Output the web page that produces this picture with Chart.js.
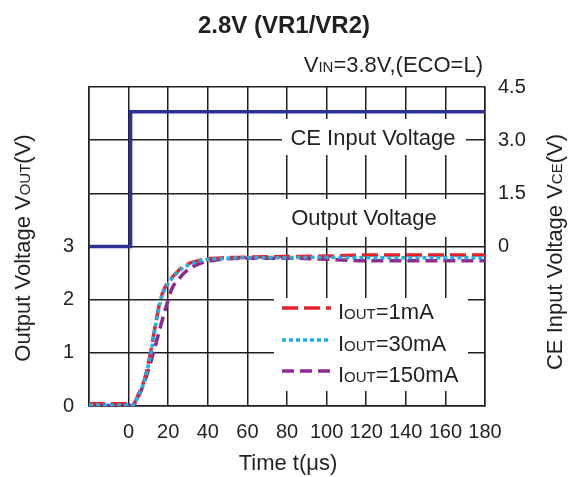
<!DOCTYPE html>
<html>
<head>
<meta charset="utf-8">
<script src="https://cdn.jsdelivr.net/npm/chart.js@4"></script>
<style>
  body { margin: 0; background: #fff; }
</style>
</head>
<body>
<canvas id="chart" width="568" height="477"></canvas>
<script>
// time axis, microseconds
const times = [-20, 0, 2, 5, 8, 11, 14, 16, 18, 20, 22, 25, 28, 32, 36, 40, 45, 50, 60, 80, 100, 120, 140, 160, 180];
// output voltage (V) per load current
const vout1mA   = [0.04, 0.04, 0.03, 0.22, 0.50, 0.99, 1.62, 1.99, 2.20, 2.33, 2.42, 2.54, 2.63, 2.70, 2.74, 2.77, 2.78, 2.79, 2.80, 2.81, 2.82, 2.84, 2.84, 2.84, 2.84];
const vout30mA  = [0.02, 0.02, 0.02, 0.20, 0.48, 0.95, 1.58, 1.95, 2.17, 2.30, 2.40, 2.52, 2.61, 2.68, 2.73, 2.76, 2.77, 2.78, 2.79, 2.79, 2.80, 2.79, 2.79, 2.79, 2.79];
const vout150mA = [0.01, 0.01, 0.01, 0.18, 0.45, 0.80, 1.20, 1.48, 1.75, 2.00, 2.22, 2.37, 2.50, 2.61, 2.68, 2.72, 2.75, 2.77, 2.78, 2.78, 2.76, 2.73, 2.73, 2.73, 2.73];
// CE input step
const ceTimes = [-20, 1, 1, 180];
const ceVolts = [0, 0, 3.8, 3.8];

const leftTicks = [0, 1, 2, 3];
const rightTicks = [0, 1.5, 3, 4.5];
const rightTickLabels = ['0', '1.5', '3.0', '4.5'];
const legendLabels = ['1mA', '30mA', '150mA'];

const FONT = "'Liberation Sans', Arial, sans-serif";
const INK = '#231f20';
const RED = '#e8202a', CYAN = '#1cb0e6', PURPLE = '#8e2a92', NAVY = '#2e3192';

const pts = (xs, ys) => xs.map((x, i) => ({x: x, y: ys[i]}));

// draw text made of [string, size] parts
function mixed(ctx, parts, x, y, align) {
  let w = 0;
  parts.forEach(p => { ctx.font = p[1] + 'px ' + FONT; w += ctx.measureText(p[0]).width; });
  let cx = align === 'center' ? x - w / 2 : align === 'right' ? x - w : x;
  ctx.textAlign = 'left';
  ctx.textBaseline = 'alphabetic';
  parts.forEach(p => {
    ctx.font = p[1] + 'px ' + FONT;
    ctx.fillText(p[0], cx, y);
    cx += ctx.measureText(p[0]).width;
  });
}

const boxes = {
  id: 'boxes',
  beforeDatasetsDraw(chart) {
    const ctx = chart.ctx;
    ctx.save();
    ctx.fillStyle = '#fff';
    ctx.fillRect(282, 119, 184, 36);
    ctx.fillRect(283, 199, 167, 38);
    ctx.fillRect(274, 298, 194, 93);
    ctx.restore();
  },
  afterDraw(chart) {
    const ctx = chart.ctx;
    ctx.save();
    ctx.fillStyle = INK;
    ctx.textAlign = 'center';
    ctx.font = 'bold 24px ' + FONT;
    ctx.fillText('2.8V (VR1/VR2)', 284, 33);
    mixed(ctx, [['V', 22], ['IN', 15], ['=3.8V,(ECO=L)', 22]], 483, 72, 'right');
    mixed(ctx, [['CE Input Voltage', 22]], 373, 145, 'center');
    mixed(ctx, [['Output Voltage', 22]], 364, 225, 'center');
    mixed(ctx, [['Time t(\u03bcs)', 22]], 288, 470, 'center');

    ctx.save();
    ctx.translate(30, 248);
    ctx.rotate(-Math.PI / 2);
    mixed(ctx, [['Output Voltage V', 22], ['OUT', 15], ['(V)', 22]], 0, 0, 'center');
    ctx.restore();

    ctx.save();
    ctx.translate(562, 252);
    ctx.rotate(-Math.PI / 2);
    mixed(ctx, [['CE Input Voltage V', 22], ['CE', 15], ['(V)', 22]], 0, 0, 'center');
    ctx.restore();

    // legend
    const styles = [[RED, [16, 6]], [CYAN, [4, 3]], [PURPLE, [12, 6]]];
    const rows = [308, 340, 371];
    legendLabels.forEach((lab, i) => {
      ctx.beginPath();
      ctx.strokeStyle = styles[i][0];
      ctx.lineWidth = 3.5;
      ctx.setLineDash(styles[i][1]);
      ctx.moveTo(282, rows[i]);
      ctx.lineTo(331, rows[i]);
      ctx.stroke();
      ctx.setLineDash([]);
      mixed(ctx, [['I', 22], ['OUT', 15], ['=' + lab, 22]], 338, rows[i] + 11, 'left');
    });
    ctx.restore();
  }
};

new Chart(document.getElementById('chart'), {
  type: 'line',
  data: {
    datasets: [
      {
        label: 'IOUT=30mA',
        data: pts(times, vout30mA),
        yAxisID: 'y',
        borderColor: CYAN,
        borderWidth: 3.5,
        borderDash: [4, 3],
        cubicInterpolationMode: 'monotone',
        pointRadius: 0
      },
      {
        label: 'IOUT=1mA',
        data: pts(times, vout1mA),
        yAxisID: 'y',
        borderColor: RED,
        borderWidth: 3.5,
        borderDash: [16, 6],
        cubicInterpolationMode: 'monotone',
        pointRadius: 0
      },
      {
        label: 'IOUT=150mA',
        data: pts(times, vout150mA),
        yAxisID: 'y',
        borderColor: PURPLE,
        borderWidth: 3.5,
        borderDash: [12, 6],
        cubicInterpolationMode: 'monotone',
        pointRadius: 0
      },
      {
        label: 'CE Input Voltage',
        data: pts(ceTimes, ceVolts),
        yAxisID: 'y2',
        borderColor: NAVY,
        borderWidth: 3.5,
        tension: 0,
        pointRadius: 0
      }
    ]
  },
  options: {
    responsive: false,
    animation: false,
    layout: { padding: { top: 87, left: 0, right: 0, bottom: 0 } },
    plugins: { legend: { display: false }, tooltip: { enabled: false } },
    scales: {
      x: {
        type: 'linear',
        min: -20,
        max: 180,
        afterFit: s => { s.height = 71; },
        grid: { color: INK, lineWidth: 1.5, drawTicks: false },
        border: { color: INK, width: 1.5 },
        ticks: {
          stepSize: 20,
          autoSkip: false,
          maxRotation: 0,
          padding: 14,
          color: INK,
          font: { family: FONT, size: 20 },
          callback: v => v < 0 ? '' : String(v)
        }
      },
      y: {
        position: 'left',
        min: 0,
        max: 6,
        afterFit: s => { s.width = 89; },
        grid: { color: INK, lineWidth: 1.5, drawTicks: false },
        border: { color: INK, width: 1.5 },
        ticks: {
          stepSize: 1,
          autoSkip: false,
          padding: 15,
          color: INK,
          font: { family: FONT, size: 20 },
          callback: v => leftTicks.includes(v) ? String(v) : ''
        }
      },
      y2: {
        position: 'right',
        min: -4.5,
        max: 4.5,
        afterFit: s => { s.width = 83; },
        grid: { display: false, drawTicks: false },
        border: { color: INK, width: 1.5 },
        ticks: {
          stepSize: 1.5,
          autoSkip: false,
          padding: 13,
          color: INK,
          font: { family: FONT, size: 20 },
          callback: v => {
            const i = rightTicks.indexOf(v);
            return i < 0 ? '' : rightTickLabels[i];
          }
        }
      }
    }
  },
  plugins: [boxes]
});
</script>
</body>
</html>
